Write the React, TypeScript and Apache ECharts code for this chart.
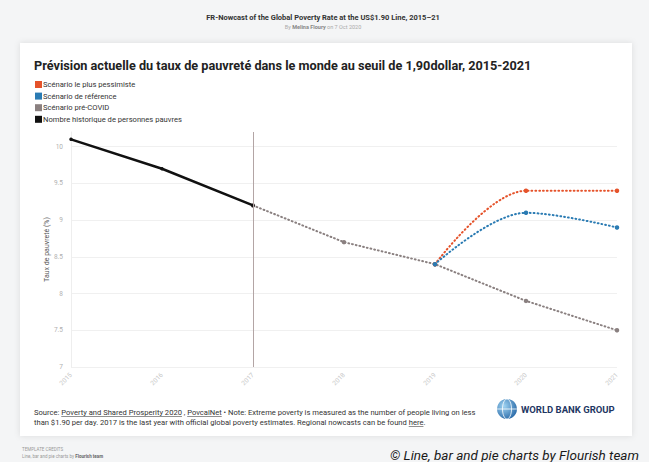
import React, { useEffect, useRef } from "react";
import * as echarts from "echarts";

const years = ["2015", "2016", "2017", "2018", "2019", "2020", "2021"];
const historique = [10.1, 9.7, 9.2, null, null, null, null];
const preCovid = [null, null, 9.2, 8.7, 8.4, 7.9, 7.5];
const pessimiste = [null, null, null, null, 8.4, 9.4, 9.4];
const reference = [null, null, null, null, 8.4, 9.1, 8.9];

const names = [
  "Scénario le plus pessimiste",
  "Scénario de référence",
  "Scénario pré-COVID",
  "Nombre historique de personnes pauvres",
];
const colors = ["#e5532b", "#2a7bb3", "#8a8080", "#111111"];

const FONT = "Roboto, 'Open Sans', sans-serif";

const footer1Parts = ["Source: ", "Poverty and Shared Prosperity 2020", " , ", "PovcalNet", " • Note: Extreme poverty is measured as the number of people living on less"];
const footer2Parts = ["than $1.90 per day. 2017 is the last year with official global poverty estimates. Regional nowcasts can be found ", "here", "."];

function measure(text: string, font: string): number {
  const c = document.createElement("canvas").getContext("2d")!;
  c.font = font;
  return c.measureText(text).width;
}

export default function App() {
  const ref = useRef<HTMLDivElement>(null);
  useEffect(() => {
    const chart = echarts.init(ref.current!, null, { renderer: "svg" });
    const dotted = (c: string) => ({ color: c, width: 2, type: [0.8, 3] as any, cap: "round" as any });
    const footFont = `7.6px Roboto`;
    const underline = (parts: string[], idx: number, x0: number, y: number) => {
      const start = x0 + measure(parts.slice(0, idx).join(""), footFont);
      const w = measure(parts[idx], footFont);
      return {
        type: "line",
        shape: { x1: start, y1: y, x2: start + w, y2: y },
        style: { stroke: "#444", lineWidth: 0.6 },
      };
    };
    const option: any = {
      animation: false,
      backgroundColor: "#f4f5f6",
      textStyle: { fontFamily: FONT },
      graphic: [
        {
          type: "rect",
          shape: { x: 20, y: 43, width: 612, height: 393 },
          style: { fill: "#ffffff", shadowBlur: 6, shadowColor: "rgba(0,0,0,0.10)" },
          z: -10,
        },
        {
          type: "text",
          x: 323, y: 17,
          style: { text: "FR-Nowcast of the Global Poverty Rate at the US$1.90 Line, 2015–21", font: `bold 7.5px ${FONT}`, fill: "#333", align: "center", verticalAlign: "middle" },
        },
        {
          type: "text",
          x: 323, y: 27,
          style: {
            text: "{a|By }{b|Melina Floury}{a| on 7 Oct 2020}",
            align: "center", verticalAlign: "middle",
            rich: {
              a: { fontSize: 5.5, fill: "#aaa", fontFamily: FONT },
              b: { fontSize: 5.5, fill: "#888", fontWeight: "bold", fontFamily: FONT },
            },
          },
        },
        {
          type: "text",
          x: 34, y: 65,
          style: { text: "Prévision actuelle du taux de pauvreté dans le monde au seuil de 1,90dollar, 2015-2021", font: `bold 12.7px ${FONT}`, fill: "#222", verticalAlign: "middle" },
        },
        {
          type: "text",
          x: 34, y: 412,
          style: { text: footer1Parts.join(""), font: footFont, fill: "#333", verticalAlign: "middle" },
        },
        {
          type: "text",
          x: 34, y: 422,
          style: { text: footer2Parts.join(""), font: footFont, fill: "#333", verticalAlign: "middle" },
        },
        underline(footer1Parts, 1, 34, 416.5),
        underline(footer1Parts, 3, 34, 416.5),
        underline(footer2Parts, 1, 34, 426.5),
        {
          type: "circle",
          shape: { cx: 507, cy: 409, r: 10 },
          style: {
            fill: new echarts.graphic.RadialGradient(0.35, 0.35, 0.8, [
              { offset: 0, color: "#9fd3f2" },
              { offset: 1, color: "#1d5fa0" },
            ]),
          },
        },
        { type: "ellipse", shape: { cx: 507, cy: 409, rx: 4.5, ry: 10 }, style: { fill: "none", stroke: "rgba(255,255,255,0.8)", lineWidth: 1 } },
        { type: "line", shape: { x1: 497, y1: 409, x2: 517, y2: 409 }, style: { stroke: "rgba(255,255,255,0.8)", lineWidth: 1 } },
        {
          type: "text",
          x: 521, y: 409,
          style: { text: "WORLD BANK GROUP", font: `bold 9.5px ${FONT}`, fill: "#1f3763", verticalAlign: "middle" },
        },
        {
          type: "text",
          x: 22, y: 449,
          style: { text: "TEMPLATE CREDITS", font: `4.5px ${FONT}`, fill: "#999", verticalAlign: "middle" },
        },
        {
          type: "text",
          x: 22, y: 456,
          style: {
            text: "{a|Line, bar and pie charts by }{b|Flourish team}",
            verticalAlign: "middle",
            rich: {
              a: { fontSize: 4.5, fill: "#999", fontFamily: FONT },
              b: { fontSize: 4.5, fill: "#666", fontWeight: "bold", fontFamily: FONT },
            },
          },
        },
        {
          type: "text",
          x: 390, y: 455,
          style: { text: "© Line, bar and pie charts by Flourish team", font: `italic 13.5px ${FONT}`, fill: "#1a1a1a", verticalAlign: "middle" },
        },
      ],
      legend: {
        orient: "vertical",
        left: 35,
        top: 80.5,
        padding: 0,
        itemWidth: 7,
        itemHeight: 7,
        itemGap: 3.6,
        icon: "rect",
        data: names,
        textStyle: { fontSize: 7.6, color: "#333", padding: [0, 0, 0, -4] },
      },
      grid: { left: 71, right: 32, top: 132, bottom: 95 },
      xAxis: {
        type: "category",
        data: years,
        boundaryGap: false,
        axisLine: { show: false },
        axisTick: { show: false },
        axisLabel: { rotate: 45, color: "#c8c8c8", fontSize: 6.5, margin: 7 },
        splitLine: { show: false },
      },
      yAxis: {
        type: "value",
        min: 7,
        max: 10.2,
        interval: 0.5,
        name: "Taux de pauvreté (%)",
        nameLocation: "middle",
        nameGap: 21,
        nameMoveOverlap: false,
        nameTextStyle: { fontSize: 7, color: "#555" },
        axisLine: { show: true, lineStyle: { color: "#eeeeee" } },
        axisTick: { show: false },
        axisLabel: { color: "#b0b0b0", fontSize: 6.5, margin: 8, showMaxLabel: false },
        splitLine: {
          show: true,
          lineStyle: { color: ["#f0f0f0", "#f0f0f0", "#f0f0f0", "#f0f0f0", "#f0f0f0", "#f0f0f0", "#f0f0f0", "rgba(0,0,0,0)"], width: 1 },
        },
      },
      series: [
        {
          name: names[2],
          type: "line",
          data: preCovid,
          color: colors[2],
          lineStyle: dotted(colors[2]),
          symbol: "circle",
          symbolSize: 4.5,
          showSymbol: true,
          z: 2,
          markLine: {
            silent: true,
            symbol: "none",
            label: { show: false },
            lineStyle: { color: "#b3a5a5", width: 1, type: "solid" },
            data: [{ xAxis: "2017" }],
          },
        },
        {
          name: names[0],
          type: "line",
          data: pessimiste,
          color: colors[0],
          lineStyle: dotted(colors[0]),
          smooth: 0.35,
          symbol: "circle",
          symbolSize: 4.5,
          showSymbol: true,
          z: 3,
        },
        {
          name: names[1],
          type: "line",
          data: reference,
          color: colors[1],
          lineStyle: dotted(colors[1]),
          smooth: 0.35,
          symbol: "circle",
          symbolSize: 4.5,
          showSymbol: true,
          z: 3,
        },
        {
          name: names[3],
          type: "line",
          data: historique,
          color: colors[3],
          lineStyle: { color: colors[3], width: 2.5 },
          symbol: "circle",
          symbolSize: 3.5,
          showSymbol: true,
          z: 4,
        },
      ],
    };
    chart.setOption(option);
    return () => chart.dispose();
  }, []);
  return <div ref={ref} style={{ position: "fixed", left: 0, top: 0, width: 649, height: 462 }} />;
}
